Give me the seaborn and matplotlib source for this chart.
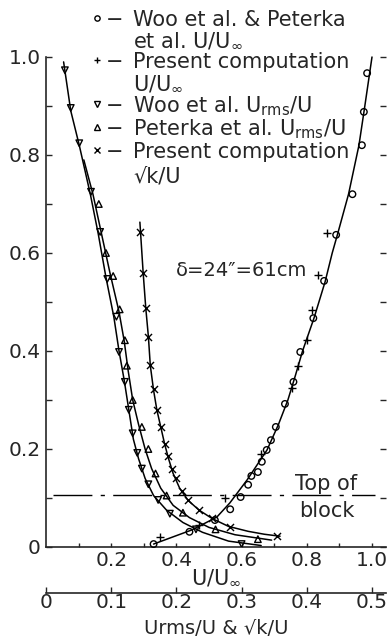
import numpy as np
import pandas as pd
import matplotlib
matplotlib.use("Agg")
import matplotlib.pyplot as plt
from matplotlib.lines import Line2D
import seaborn as sns

sns.set_style("ticks")
plt.rcParams['font.family'] = ['DejaVu Sans']
plt.rcParams['mathtext.fontset'] = 'dejavusans'

# ---------------- data ----------------
# Woo et al. & Peterka et al. U/Uinf (open circles)
exp_U = [0.33, 0.44, 0.518, 0.565, 0.597, 0.62, 0.63, 0.65, 0.662, 0.677, 0.69,
         0.705, 0.733, 0.759, 0.78, 0.82, 0.853, 0.89, 0.94, 0.969, 0.975, 0.985]
exp_y = [0.006, 0.031, 0.055, 0.077, 0.102, 0.127, 0.145, 0.153, 0.174, 0.198, 0.218,
         0.245, 0.292, 0.337, 0.398, 0.467, 0.543, 0.637, 0.72, 0.82, 0.888, 0.967]
# Present computation U/Uinf (plus)
comp_U = [0.35, 0.47, 0.55, 0.66, 0.755, 0.773, 0.80, 0.815, 0.835, 0.862]
comp_y = [0.02, 0.045, 0.10, 0.19, 0.325, 0.37, 0.422, 0.484, 0.555, 0.64]
# Mean velocity curve
curveU_U = [0.33, 0.448, 0.524, 0.564, 0.617, 0.678, 0.713, 0.742, 0.765, 0.787,
            0.822, 0.856, 0.878, 0.895, 0.928, 0.96, 0.978, 1.0]
curveU_y = [0.006, 0.035, 0.061, 0.09, 0.137, 0.198, 0.25, 0.30, 0.35, 0.40,
            0.467, 0.541, 0.60, 0.64, 0.72, 0.82, 0.90, 1.0]

# Woo et al. Urms/U (down triangles)
woo_r = [0.029, 0.038, 0.051, 0.069, 0.083, 0.094, 0.108, 0.112, 0.121, 0.127, 0.133,
         0.14, 0.147, 0.157, 0.172, 0.19, 0.23, 0.30]
woo_y = [0.973, 0.896, 0.824, 0.725, 0.643, 0.547, 0.47, 0.398, 0.337, 0.28, 0.232,
         0.192, 0.16, 0.128, 0.096, 0.068, 0.036, 0.006]
# Peterka et al. Urms/U (up triangles)
pet_r = [0.081, 0.092, 0.103, 0.113, 0.121, 0.124, 0.133, 0.147, 0.157, 0.168, 0.185,
         0.21, 0.26, 0.325]
pet_y = [0.70, 0.60, 0.553, 0.485, 0.422, 0.37, 0.30, 0.245, 0.20, 0.15, 0.105,
         0.07, 0.036, 0.016]
# Present computation sqrt(k)/U (x)
sqk_r = [0.144, 0.149, 0.153, 0.156, 0.16, 0.165, 0.17, 0.176, 0.182, 0.187, 0.193,
         0.2, 0.208, 0.218, 0.235, 0.254, 0.282, 0.354]
sqk_y = [0.643, 0.56, 0.488, 0.429, 0.371, 0.322, 0.28, 0.245, 0.21, 0.186, 0.16,
         0.14, 0.115, 0.095, 0.076, 0.06, 0.041, 0.022]

# curves through the turbulence data
cw_r = [0.027, 0.038, 0.051, 0.068, 0.08, 0.092, 0.104, 0.112, 0.12, 0.127, 0.134,
        0.142, 0.152, 0.165, 0.185, 0.21, 0.24, 0.28, 0.33]
cw_y = [0.99, 0.89, 0.82, 0.72, 0.64, 0.55, 0.47, 0.40, 0.34, 0.28, 0.22,
        0.18, 0.14, 0.105, 0.075, 0.05, 0.03, 0.012, 0.003]
cp_r = [0.058, 0.072, 0.085, 0.098, 0.112, 0.12, 0.126, 0.133, 0.142, 0.152, 0.162,
        0.176, 0.195, 0.22, 0.25, 0.29, 0.346]
cp_y = [0.79, 0.72, 0.64, 0.56, 0.48, 0.42, 0.36, 0.30, 0.25, 0.20, 0.16,
        0.12, 0.085, 0.06, 0.04, 0.025, 0.014]
ck_r = [0.144, 0.149, 0.153, 0.157, 0.16, 0.165, 0.17, 0.176, 0.182, 0.188, 0.195,
        0.205, 0.218, 0.235, 0.255, 0.28, 0.31, 0.335, 0.359]
ck_y = [0.663, 0.56, 0.488, 0.43, 0.37, 0.32, 0.28, 0.245, 0.21, 0.18, 0.15,
        0.12, 0.095, 0.075, 0.058, 0.042, 0.032, 0.026, 0.022]

block_top = 0.106
block_x = [0.02, 1.01]

y_ticks = [0, 0.2, 0.4, 0.6, 0.8, 1.0]
y_ticklabels = ["0", "0.2", "0.4", "0.6", "0.8", "1.0"]
u_ticks = [0.2, 0.4, 0.6, 0.8, 1.0]
u_ticklabels = ["0.2", "0.4", "0.6", "0.8", "1.0"]
r_ticks = [0, 0.1, 0.2, 0.3, 0.4, 0.5]
r_ticklabels = ["0", "0.1", "0.2", "0.3", "0.4", "0.5"]

legend_rows = [
    ("o", "Woo et al. & Peterka", 26),
    (None, "et al. U/U$_{\\infty}$", 46),
    ("+", "Present computation", 68),
    (None, "U/U$_{\\infty}$", 89),
    ("v", "Woo et al. U$_{\\rm rms}$/U", 112),
    ("^", "Peterka et al. U$_{\\rm rms}$/U", 135),
    ("x", "Present computation", 158),
    (None, "√k/U", 182),
]

# ---------------- figure ----------------
W, H = 388, 640
fig = plt.figure(figsize=(W / 100, H / 100), dpi=100)
ax = fig.add_axes([46 / W, 93 / H, 340 / W, 490 / H])
xmax = 340 / 326
ax.set_xlim(0, xmax)
ax.set_ylim(0, 1.0)

ax2 = ax.twiny()
ax2.set_xlim(0, xmax / 2)

k = 'black'
lw = 1.1
ms = 22

# U/Uinf
sns.lineplot(x=curveU_U, y=curveU_y, sort=False, estimator=None, color=k, lw=lw, ax=ax)
sns.scatterplot(x=exp_U, y=exp_y, marker='o', s=ms, facecolor='none', edgecolor=k,
                linewidth=1.0, ax=ax, clip_on=False, zorder=3)
sns.scatterplot(x=comp_U, y=comp_y, marker='+', s=36, color=k, linewidth=1.0, ax=ax, zorder=3)

# turbulence
sns.lineplot(x=cw_r, y=cw_y, sort=False, estimator=None, color=k, lw=lw, ax=ax2)
sns.lineplot(x=cp_r, y=cp_y, sort=False, estimator=None, color=k, lw=lw, ax=ax2)
sns.lineplot(x=ck_r, y=ck_y, sort=False, estimator=None, color=k, lw=lw, ax=ax2)
sns.scatterplot(x=woo_r, y=woo_y, marker='v', s=ms, facecolor='none', edgecolor=k,
                linewidth=1.0, ax=ax2, zorder=3)
sns.scatterplot(x=pet_r, y=pet_y, marker='^', s=ms, facecolor='none', edgecolor=k,
                linewidth=1.0, ax=ax2, zorder=3)
sns.scatterplot(x=sqk_r, y=sqk_y, marker='x', s=26, color=k, linewidth=1.0, ax=ax2, zorder=3)
for l in ax2.lines:
    l.set_clip_on(False)
for l in ax.lines:
    l.set_clip_on(False)

# top of block
ax.plot(block_x, [block_top, block_top], color=k, lw=1.0, ls=(0, (28, 6, 3, 6)))
ax.text(0.86, 0.128, "Top of", ha='center', va='center', fontsize=15)
ax.text(0.862, 0.073, "block", ha='center', va='center', fontsize=15)
ax.text(0.6, 0.565, "δ=24″=61cm", ha='center', va='center', fontsize=14)

# main axes styling
for s in ['top', 'right']:
    ax.spines[s].set_visible(False)
for s in ['left', 'bottom']:
    ax.spines[s].set_linewidth(1.2)
ax.set_yticks(y_ticks)
ax.set_yticklabels(y_ticklabels)
ax.set_yticks(np.arange(0.1, 1.0, 0.2), minor=True)
ax.set_xticks(u_ticks)
ax.set_xticklabels(u_ticklabels)
ax.set_xticks(np.arange(0.1, 1.0, 0.2), minor=True)
ax.tick_params(axis='y', which='both', direction='in', length=4, width=1.0,
               labelsize=14.5, pad=4, left=True, right=True)
ax.tick_params(axis='x', which='both', direction='in', length=3, width=1.0,
               labelsize=14.5, pad=3, top=False)
ax.set_xlabel("U/U$_{\\infty}$", fontsize=15, labelpad=-2)
ax.set_ylabel("")

# secondary axis
ax2.xaxis.set_ticks_position('bottom')
ax2.spines['bottom'].set_position(('axes', -46 / 490))
ax2.spines['bottom'].set_linewidth(1.2)
for s in ['top', 'left', 'right']:
    ax2.spines[s].set_visible(False)
ax2.set_xticks(r_ticks)
ax2.set_xticklabels(r_ticklabels)
ax2.tick_params(axis='x', direction='in', length=4, width=1.0, labelsize=14.5, pad=0)
ax2.set_xlabel("")
ax2.set_ylabel("")
fig.text(216 / W, 1 - 634 / H, "Urms/U & √k/U", ha='center',
         va='baseline', fontsize=14)

# legend block
for mk, txt, base in legend_rows:
    yf = 1 - base / H
    if mk is not None:
        fig.add_artist(Line2D([97 / W], [1 - (base - 8) / H], marker=mk, ms=3.8,
                              mfc='none', mec=k, mew=1.0, color=k, ls='none',
                              transform=fig.transFigure))
        fig.text(115 / W, yf, "−", ha='center', va='baseline', fontsize=15)
    fig.text(133 / W, yf, txt, ha='left', va='baseline', fontsize=15)

fig.savefig("out.png", dpi=100)
